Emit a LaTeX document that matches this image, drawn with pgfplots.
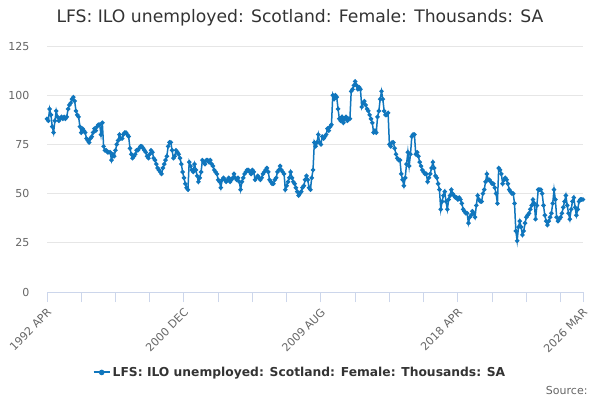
\documentclass[border=0pt]{standalone}
\usepackage{fontspec}
\setmainfont{DejaVu Sans}
\usepackage{pgfplots}
\pgfplotsset{compat=1.18}
\definecolor{serblue}{RGB}{16,118,189}
\definecolor{gridc}{RGB}{230,230,230}
\definecolor{axc}{RGB}{204,214,235}
\definecolor{labc}{RGB}{102,102,102}
\definecolor{titc}{RGB}{51,51,51}
\begin{document}
\begin{tikzpicture}[x=1pt,y=1pt]
\path[use as bounding box, fill=white] (0,0) rectangle (600,400);
\node[font=\fontsize{17.2}{20}\selectfont, text=titc] at (300,382) {LFS: ILO unemployed: Scotland: Female: Thousands: SA};
\begin{axis}[at={(47pt,108pt)}, anchor=south west, scale only axis, width=536pt, height=246pt,
 xmin=0, xmax=407, ymin=0, ymax=125,
 axis x line*=bottom, axis y line*=left,
 y axis line style={draw=none},
 x axis line style={draw=axc, line width=1pt, -},
 ytick={0,25,50,75,100,125},
 ymajorgrids, grid style={gridc, line width=1pt},
 ytick style={draw=none},
 xtick={0,104,208,312,407},
 xticklabels={1992 APR,2000 DEC,2009 AUG,2018 APR,2026 MAR},
 minor xtick={26,52,78,130,156,182,234,260,286,338,364,390},
 xtick style={draw=axc, line width=1pt},
 tick align=outside, major tick length=10pt, minor tick length=10pt,
 xticklabel style={rotate=45, anchor=north east, font=\fontsize{11}{13}\selectfont, text=labc, xshift=-1pt},
 yticklabel style={font=\fontsize{11}{13}\selectfont, text=labc, xshift=-4pt},
 /pgf/number format/assume math mode=true,
 legend style={at={(0.472,-0.327)}, anchor=center, draw=none, fill=none, font=\bfseries\fontsize{12.3}{14}\selectfont, text=titc},
 legend image code/.code={\draw[serblue, line width=2pt] (0pt,0pt) -- (16pt,0pt); \fill[serblue] (8pt,0pt) circle (2pt);},
 clip=false]
\addplot[serblue, line width=1.5pt, mark=*, mark size=1.4pt, mark options={fill=serblue, draw=serblue}] table[x expr=\coordindex, y index=0, header=false, row sep=\\] {
88\\87\\93\\90\\84\\81\\87\\92\\89\\87\\88\\89\\
88\\89\\88\\89\\93\\95\\96\\98\\99\\97\\92\\90\\
89\\84\\81\\83\\82\\81\\78\\77\\76\\78\\79\\81\\
83\\82\\84\\85\\85\\80\\86\\74\\72\\72\\71\\71\\
71\\67\\70\\69\\72\\75\\77\\80\\78\\78\\80\\81\\
81\\80\\79\\73\\70\\68\\69\\70\\72\\72\\73\\74\\
74\\73\\72\\71\\69\\68\\70\\72\\71\\68\\67\\65\\
63\\62\\61\\60\\63\\65\\67\\69\\74\\76\\76\\72\\
68\\69\\72\\71\\70\\68\\65\\61\\58\\55\\53\\52\\
66\\64\\62\\61\\65\\62\\59\\56\\58\\61\\67\\66\\
65\\67\\67\\66\\67\\65\\64\\62\\61\\60\\57\\56\\
53\\57\\58\\57\\56\\57\\58\\56\\57\\58\\60\\58\\
57\\58\\56\\52\\56\\58\\60\\61\\62\\62\\61\\60\\
62\\61\\57\\58\\59\\58\\57\\58\\60\\61\\62\\63\\
61\\57\\56\\55\\55\\57\\58\\61\\62\\64\\62\\61\\
60\\52\\54\\56\\58\\61\\58\\56\\55\\53\\51\\49\\
50\\51\\53\\54\\57\\59\\57\\53\\52\\58\\62\\76\\
74\\76\\80\\76\\75\\79\\78\\79\\80\\83\\82\\84\\
85\\100\\98\\100\\99\\93\\88\\87\\89\\86\\88\\89\\
87\\88\\88\\102\\103\\105\\107\\105\\103\\104\\103\\94\\
96\\97\\95\\93\\92\\90\\88\\86\\81\\82\\81\\89\\
92\\98\\102\\98\\92\\90\\90\\91\\75\\74\\76\\76\\
73\\70\\68\\67\\67\\60\\57\\54\\58\\65\\71\\64\\
70\\79\\80\\80\\70\\71\\69\\66\\64\\62\\61\\60\\
60\\56\\58\\60\\63\\66\\63\\59\\58\\55\\52\\42\\
46\\49\\51\\46\\42\\47\\49\\52\\50\\49\\48\\48\\
47\\48\\47\\45\\42\\41\\40\\40\\35\\38\\39\\41\\
40\\38\\44\\49\\47\\46\\46\\50\\52\\56\\60\\57\\
57\\56\\55\\55\\53\\50\\45\\63\\62\\60\\55\\57\\
58\\57\\55\\52\\51\\50\\50\\45\\31\\26\\33\\36\\
33\\29\\31\\35\\38\\39\\40\\42\\44\\47\\45\\37\\
44\\52\\52\\52\\50\\44\\39\\36\\34\\36\\38\\40\\
45\\52\\47\\38\\36\\37\\38\\40\\43\\46\\49\\44\\
40\\37\\42\\46\\48\\43\\39\\42\\46\\47\\47\\47\\
};
\legend{LFS: ILO unemployed: Scotland: Female: Thousands: SA}
\end{axis}
\node[font=\fontsize{11}{13}\selectfont, text=labc, anchor=east] at (591,10) {Source:};
\end{tikzpicture}
\end{document}
